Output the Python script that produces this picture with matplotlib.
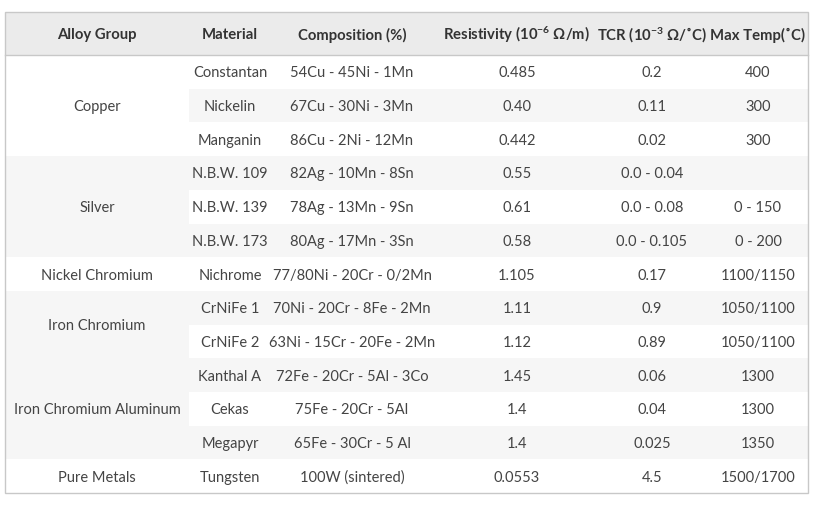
import matplotlib.pyplot as plt
from matplotlib.patches import Rectangle

plt.rcParams['font.family'] = ['Lato', 'DejaVu Sans']
plt.rcParams['mathtext.fontset'] = 'custom'
plt.rcParams['mathtext.rm'] = 'Lato:bold'
plt.rcParams['mathtext.default'] = 'regular'

headers = ['Alloy Group', 'Material', 'Composition (%)',
           'Resistivity ($10^{-6}$ Ω/m)', 'TCR ($10^{-3}$ Ω/˚C)', 'Max Temp(˚C)']
groups = ['Copper', 'Silver', 'Nickel Chromium', 'Iron Chromium',
          'Iron Chromium Aluminum', 'Pure Metals']
group_rows = [3, 3, 1, 2, 3, 1]
materials = ['Constantan', 'Nickelin', 'Manganin', 'N.B.W. 109', 'N.B.W. 139',
             'N.B.W. 173', 'Nichrome', 'CrNiFe 1', 'CrNiFe 2', 'Kanthal A',
             'Cekas', 'Megapyr', 'Tungsten']
composition = ['54Cu - 45Ni - 1Mn', '67Cu - 30Ni - 3Mn', '86Cu - 2Ni - 12Mn',
               '82Ag - 10Mn - 8Sn', '78Ag - 13Mn - 9Sn', '80Ag - 17Mn - 3Sn',
               '77/80Ni - 20Cr - 0/2Mn', '70Ni - 20Cr - 8Fe - 2Mn',
               '63Ni - 15Cr - 20Fe - 2Mn', '72Fe - 20Cr - 5Al - 3Co',
               '75Fe - 20Cr - 5Al', '65Fe - 30Cr - 5 Al', '100W (sintered)']
resistivity = ['0.485', '0.40', '0.442', '0.55', '0.61', '0.58', '1.105',
               '1.11', '1.12', '1.45', '1.4', '1.4', '0.0553']
tcr = ['0.2', '0.11', '0.02', '0.0 - 0.04', '0.0 - 0.08', '0.0 - 0.105', '0.17',
       '0.9', '0.89', '0.06', '0.04', '0.025', '4.5']
max_temp = ['400', '300', '300', '', '0 - 150', '0 - 200', '1100/1150',
            '1050/1100', '1050/1100', '1300', '1300', '1350', '1500/1700']

# layout (pixels)
left, right = 5, 808
top, head_bot = 12, 55
row_h = 33.7
col_split = 189
col_x = [97, 230, 352, 517, 652, 758]
stripe = '#f6f6f6'
txt = '#444444'
fs = 10.5

fig = plt.figure(figsize=(8.2, 5.05), dpi=100)
ax = fig.add_axes([0, 0, 1, 1])
ax.set_xlim(0, 820)
ax.set_ylim(505, 0)
ax.axis('off')

n = len(materials)
bottom = head_bot + n * row_h

# header
ax.add_patch(Rectangle((left, top), right - left, head_bot - top, color='#ebebeb', lw=0))
for x, h in zip(col_x, headers):
    ax.text(x, (top + head_bot) / 2 + 1.5, h, ha='center', va='center',
            fontsize=10.7, fontweight='bold', color='#333333')

# row stripes + cells
for i in range(n):
    y0 = head_bot + i * row_h
    if i % 2 == 1:
        ax.add_patch(Rectangle((col_split, y0), right - col_split, row_h, color=stripe, lw=0))
    yc = y0 + row_h / 2 + 1.5
    for x, v in zip(col_x[1:], [materials[i], composition[i], resistivity[i], tcr[i], max_temp[i]]):
        ax.text(x, yc, v, ha='center', va='center', fontsize=fs, color=txt)

# group cells (rowspan)
r = 0
for g, k in zip(groups, group_rows):
    y0 = head_bot + r * row_h
    if r % 2 == 1:
        ax.add_patch(Rectangle((left, y0), col_split - left, k * row_h, color=stripe, lw=0))
    ax.text(col_x[0], y0 + k * row_h / 2 + 1.5, g, ha='center', va='center',
            fontsize=fs, color=txt)
    r += k

# borders
ax.plot([left, right], [head_bot, head_bot], color='#c8c8c8', lw=1)
ax.add_patch(Rectangle((left, top), right - left, bottom - top, fill=False,
                       edgecolor='#c8c8c8', lw=1))

fig.savefig('out.png', dpi=100)
